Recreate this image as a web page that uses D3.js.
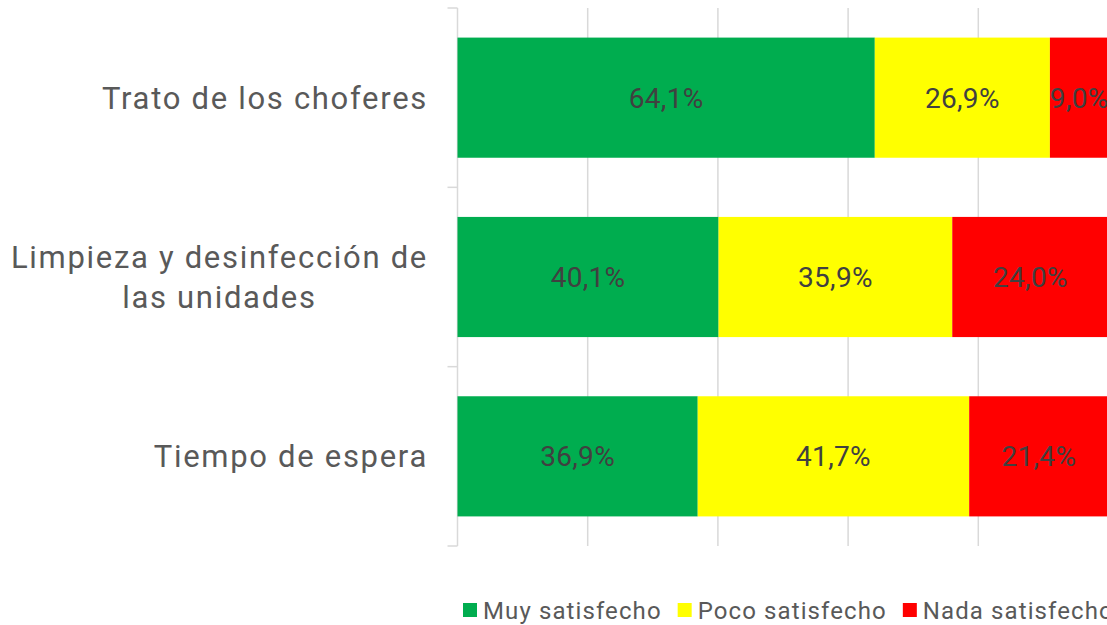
<!DOCTYPE html>
<html>
<head>
<meta charset="utf-8">
<script src="https://cdn.jsdelivr.net/npm/d3@7"></script>
<style>
  html, body { margin: 0; padding: 0; background: #fff; overflow: hidden; }
  svg { display: block; font-family: Roboto, "Noto Sans", sans-serif; }
</style>
</head>
<body>
<div id="chart"></div>
<script>
// categories (top to bottom), each may wrap onto several lines
const categories = ["Trato de los choferes", "Limpieza y desinfección de las unidades", "Tiempo de espera"];
const categoryLines = [["Trato de los choferes"], ["Limpieza y desinfección de", "las unidades"], ["Tiempo de espera"]];
const seriesNames = ["Muy satisfecho", "Poco satisfecho", "Nada satisfecho"];
const seriesColors = ["#00AD4F", "#FFFF00", "#FF0000"];
const muySatisfecho = [64.1, 40.1, 36.9];
const pocoSatisfecho = [26.9, 35.9, 41.7];
const nadaSatisfecho = [9.0, 24.0, 21.4];
const xTicks = [0, 20, 40, 60, 80, 100];

var width = 1107, height = 625;
var margin = { top: 8, left: 457.5, bottom: 79 };

var svg = d3.select("#chart").append("svg")
  .attr("width", width)
  .attr("height", height);

var rows = categories.map(function (c, i) {
  return { cat: c, "Muy satisfecho": muySatisfecho[i], "Poco satisfecho": pocoSatisfecho[i], "Nada satisfecho": nadaSatisfecho[i] };
});
var stacked = d3.stack().keys(seriesNames)(rows);

var x = d3.scaleLinear().domain([0, 100]).range([margin.left, margin.left + 651]);
var y = d3.scaleBand().domain(categories)
  .range([margin.top, height - margin.bottom])
  .paddingInner(0.33).paddingOuter(0.165);

// vertical gridlines
svg.append("g").selectAll("line")
  .data(xTicks.slice(1))
  .join("line")
  .attr("x1", d => x(d)).attr("x2", d => x(d))
  .attr("y1", margin.top).attr("y2", height - margin.bottom)
  .attr("stroke", "#d9d9d9").attr("stroke-width", 1.5);

// left axis with ticks at category boundaries
var bounds = categories.map(c => y(c) - y.step() * y.paddingInner() / 2);
bounds[0] = margin.top;
bounds.push(height - margin.bottom);
var axisG = svg.append("g");
axisG.append("line")
  .attr("x1", x(0)).attr("x2", x(0))
  .attr("y1", margin.top).attr("y2", height - margin.bottom)
  .attr("stroke", "#d9d9d9").attr("stroke-width", 1.5);
axisG.selectAll(".tick")
  .data(bounds)
  .join("line")
  .attr("class", "tick")
  .attr("x1", x(0) - 10).attr("x2", x(0))
  .attr("y1", d => d).attr("y2", d => d)
  .attr("stroke", "#d9d9d9").attr("stroke-width", 1.5);

// bars
var layers = svg.append("g").selectAll("g")
  .data(stacked)
  .join("g")
  .attr("fill", (d, i) => seriesColors[i]);

layers.selectAll("rect")
  .data(d => d)
  .join("rect")
  .attr("x", d => x(d[0]))
  .attr("width", d => x(d[1]) - x(d[0]))
  .attr("y", d => y(d.data.cat))
  .attr("height", y.bandwidth());

// data labels
layers.selectAll("text")
  .data(d => d)
  .join("text")
  .attr("x", d => (x(d[0]) + x(d[1])) / 2)
  .attr("y", d => y(d.data.cat) + y.bandwidth() / 2)
  .attr("dy", "0.36em")
  .attr("text-anchor", "middle")
  .attr("fill", "#404040")
  .style("font-size", "28px")
  .style("letter-spacing", "0.3px")
  .text(d => (d[1] - d[0]).toFixed(1).replace(".", ",") + "%");

// category labels
var catG = svg.append("g");
categories.forEach(function (c, i) {
  var lines = categoryLines[i];
  var cy = y(c) + y.bandwidth() / 2;
  var lh = 40;
  var t = catG.append("text")
    .attr("text-anchor", "middle")
    .attr("fill", "#595959")
    .style("font-size", "31px")
    .style("letter-spacing", "1.7px");
  lines.forEach(function (l, j) {
    t.append("tspan")
      .attr("x", 0)
      .attr("y", cy + (j - (lines.length - 1) / 2) * lh)
      .attr("dy", "0.35em")
      .text(l);
  });
  // right-align the block, center lines inside it
  var w = t.node().getBBox().width;
  t.attr("transform", "translate(" + (428 - w / 2) + ",0)");
});

// legend
var legend = svg.append("g").attr("transform", "translate(463,609)");
var lx = 0;
seriesNames.forEach(function (s, i) {
  legend.append("rect")
    .attr("x", lx).attr("y", -6)
    .attr("width", 14).attr("height", 14)
    .attr("fill", seriesColors[i]);
  var t = legend.append("text")
    .attr("x", lx + 20).attr("y", 10)
    .attr("fill", "#595959")
    .style("font-size", "24px")
    .style("letter-spacing", "1.1px")
    .text(s);
  lx += 20 + t.node().getComputedTextLength() + 16;
});
</script>
</body>
</html>
